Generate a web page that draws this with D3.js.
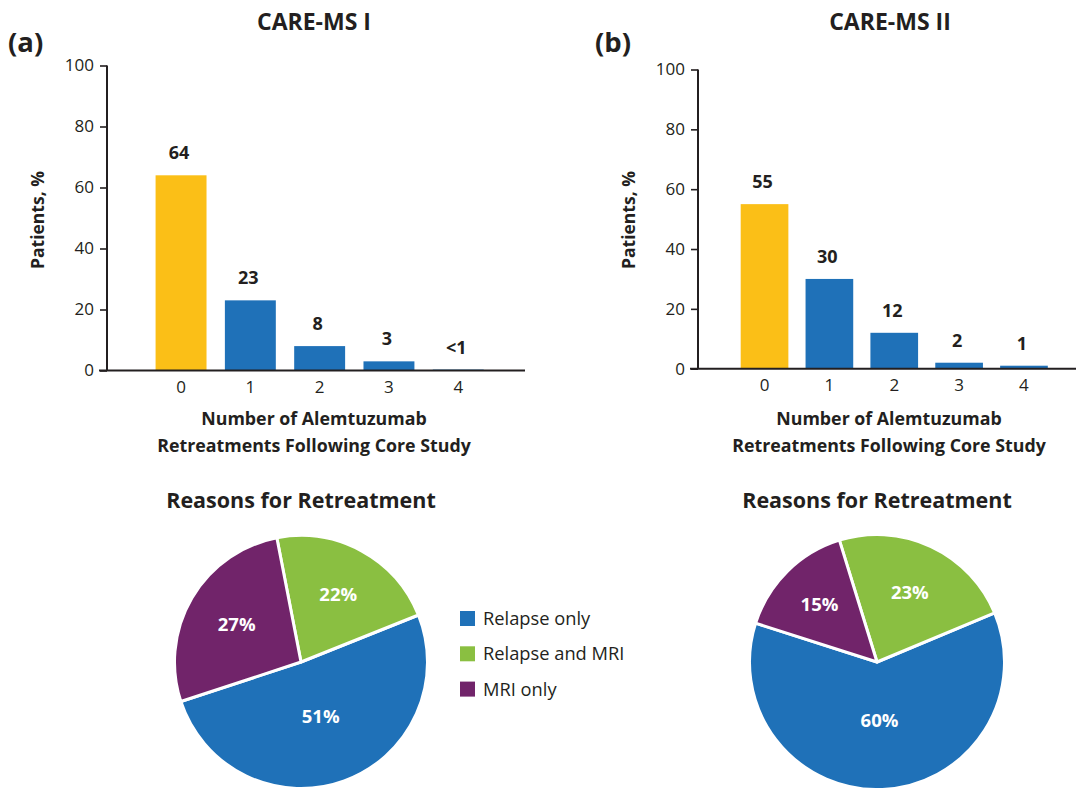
<!DOCTYPE html>
<html>
<head>
<meta charset="utf-8">
<script src="https://cdn.jsdelivr.net/npm/d3@7"></script>
<style>
  body { margin: 0; background: #fff; }
  svg { display: block; }
  text { font-family: "Open Sans", "Noto Sans", sans-serif; fill: #231f20; }
</style>
</head>
<body>
<svg id="chart" width="1076" height="788"></svg>
<script>
// Number of retreatments after the core study (x categories)
const retreatCounts = ["0", "1", "2", "3", "4"];
// Percentage of patients by number of retreatments
const careMS1Pct = [64, 23, 8, 3, 0.3];
const careMS2Pct = [55, 30, 12, 2, 1];
const yTicks = [0, 20, 40, 60, 80, 100];

// Reasons for retreatment (legend order)
const reasons = ["Relapse only", "Relapse and MRI", "MRI only"];
const careMS1Reasons = [51, 22, 27];
const careMS2Reasons = [60, 23, 15];

const reasonColor = d3.scaleOrdinal()
  .domain(reasons)
  .range(["#1f71b8", "#8abf41", "#71246a"]);
const YELLOW = "#fbbf17";
const BLUE = "#1f71b8";
const INK = "#231f20";
const FONT = '"Open Sans", "Noto Sans", sans-serif';

const svg = d3.select("#chart");
const fmtBar = v => v < 1 ? "<1" : String(v);

function barPanel(o) {
  const g = svg.append("g");
  const y = d3.scaleLinear().domain([0, 100]).range([o.y0, o.y100]);
  const x = d3.scaleBand().domain(retreatCounts)
    .range([o.bandL, o.bandR]).paddingInner(0.265).paddingOuter(0.1325);

  const data = retreatCounts.map((k, i) => ({ k, v: o.values[i] }));

  g.selectAll("rect.bar").data(data).join("rect")
    .attr("class", "bar")
    .attr("x", d => x(d.k))
    .attr("width", x.bandwidth())
    .attr("y", d => y(d.v))
    .attr("height", d => y(0) - y(d.v))
    .attr("fill", (d, i) => i === 0 ? YELLOW : BLUE);

  g.selectAll("text.val").data(data).join("text")
    .attr("class", "val")
    .attr("x", d => x(d.k) + x.bandwidth() / 2 - 2)
    .attr("y", d => y(d.v) - 16)
    .attr("text-anchor", "middle")
    .style("font-weight", 700).style("font-size", "18px")
    .text(d => fmtBar(d.v));

  // y axis
  const ya = g.append("g").attr("transform", `translate(${o.axisX},0)`)
    .call(d3.axisLeft(y).tickValues(yTicks).tickSize(7).tickPadding(6).tickSizeOuter(0));
  ya.select(".domain").attr("stroke", INK).attr("stroke-width", 2)
    .attr("d", `M0,${o.y0}V${o.y100}`);
  ya.selectAll(".tick line").attr("stroke", INK).attr("stroke-width", 1.6);
  ya.selectAll(".tick text").style("font-size", "17px").attr("fill", INK)
    .style("font-family", FONT);

  // x axis
  const xa = g.append("g").attr("transform", `translate(0,${o.y0})`)
    .call(d3.axisBottom(x).tickSize(0).tickPadding(10));
  xa.select(".domain").attr("stroke", INK).attr("stroke-width", 2)
    .attr("d", `M${o.axisX - 8},0H${o.axisEnd}`);
  xa.selectAll(".tick text").style("font-size", "17px").attr("fill", INK)
    .style("font-family", FONT);

  // titles
  g.append("text").attr("x", o.titleX).attr("y", 30)
    .attr("text-anchor", "middle")
    .style("font-weight", 700).style("font-size", "23px")
    .text(o.title);
  g.append("text").attr("x", o.tagX).attr("y", 52)
    .style("font-weight", 700).style("font-size", "27.5px")
    .text(o.tag);
  g.append("text")
    .attr("transform", `translate(${o.yTitleX},${o.yTitleY}) rotate(-90)`)
    .attr("text-anchor", "middle")
    .style("font-weight", 700).style("font-size", "17.5px")
    .text("Patients, %");
  const xt = g.append("text").attr("text-anchor", "middle")
    .style("font-weight", 700).style("font-size", "17.8px");
  xt.append("tspan").attr("x", o.xTitleX).attr("y", 425).text("Number of Alemtuzumab");
  xt.append("tspan").attr("x", o.xTitleX).attr("y", 452).text("Retreatments Following Core Study");
}

barPanel({
  values: careMS1Pct, title: "CARE-MS I", tag: "(a)",
  y0: 370.5, y100: 65.5, axisX: 107, axisEnd: 525,
  bandL: 146.4, bandR: 492.9,
  titleX: 314, tagX: 8, yTitleX: 44, yTitleY: 220, xTitleX: 314
});
barPanel({
  values: careMS2Pct, title: "CARE-MS II", tag: "(b)",
  y0: 368.7, y100: 69.5, axisX: 698, axisEnd: 1076,
  bandL: 732.1, bandR: 1056.4,
  titleX: 890, tagX: 595, yTitleX: 635, yTitleY: 220, xTitleX: 889
});

// Pie charts: reasons for retreatment
function piePanel(o) {
  const g = svg.append("g").attr("transform", `translate(${o.cx},${o.cy})`);
  const drawOrder = ["Relapse only", "MRI only", "Relapse and MRI"];
  const data = reasons.map((k, i) => ({ k, v: o.values[i] }));
  const pie = d3.pie().value(d => d.v)
    .sort((a, b) => drawOrder.indexOf(a.k) - drawOrder.indexOf(b.k))
    .startAngle(o.start).endAngle(o.start + 2 * Math.PI);
  const arcs = pie(data);
  const arc = d3.arc().innerRadius(0).outerRadius(o.r);

  g.selectAll("path").data(arcs).join("path")
    .attr("d", arc)
    .attr("fill", d => reasonColor(d.data.k))
    .attr("stroke", "#fff").attr("stroke-width", 3).attr("stroke-linejoin", "round");

  // label at the slice's area centroid
  g.selectAll("text.pct").data(arcs).join("text")
    .attr("class", "pct")
    .attr("transform", d => {
      const th = d.endAngle - d.startAngle;
      let rc = 4 * o.r * Math.sin(th / 2) / (3 * th);
      rc = Math.max(rc, 0.455 * o.r);
      const a = (d.startAngle + d.endAngle) / 2;
      return `translate(${rc * Math.sin(a)},${-rc * Math.cos(a) + 7})`;
    })
    .attr("text-anchor", "middle")
    .style("font-weight", 700).style("font-size", "18.5px")
    .style("fill", "#fff")
    .text(d => d.data.v + "%");

  svg.append("text").attr("x", o.cx).attr("y", 508)
    .attr("text-anchor", "middle")
    .style("font-weight", 700).style("font-size", "21.5px")
    .text("Reasons for Retreatment");
}

piePanel({ values: careMS1Reasons, cx: 301, cy: 662, r: 126.5, start: 1.19 });
piePanel({ values: careMS2Reasons, cx: 877, cy: 662, r: 127.5, start: 1.175 });

// Legend
const legend = svg.append("g").attr("transform", "translate(460,618.5)");
const rows = legend.selectAll("g").data(reasons).join("g")
  .attr("transform", (d, i) => `translate(0,${i * 35.3})`);
rows.append("rect").attr("x", 0).attr("y", -7.5).attr("width", 15).attr("height", 15)
  .attr("fill", d => reasonColor(d));
rows.append("text").attr("x", 23).attr("y", 6.5)
  .style("font-size", "18.3px")
  .text(d => d);
</script>
</body>
</html>
